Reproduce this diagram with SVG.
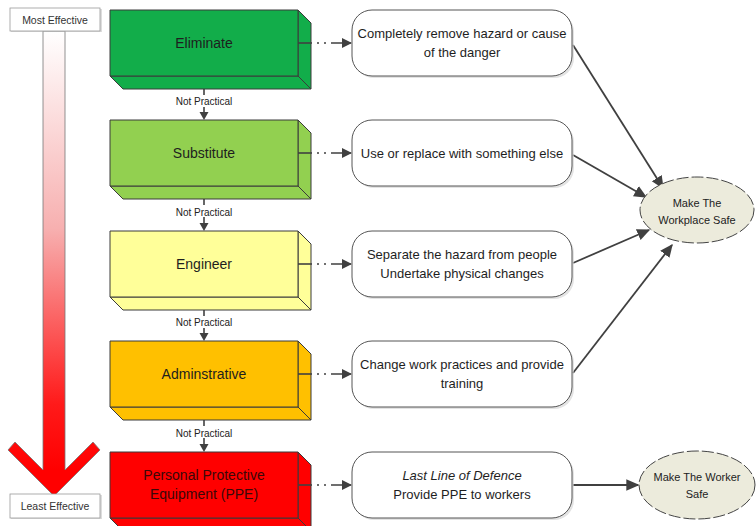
<svg xmlns="http://www.w3.org/2000/svg" width="756" height="526" viewBox="0 0 756 526">
<defs>
<linearGradient id="ag" gradientUnits="userSpaceOnUse" x1="0" y1="31" x2="0" y2="470">
<stop offset="0" stop-color="#ffffff"/>
<stop offset="0.45" stop-color="#f7b0b0"/>
<stop offset="0.85" stop-color="#ff1a1a"/>
<stop offset="1" stop-color="#ff0000"/>
</linearGradient>
<marker id="ah" viewBox="0 0 10 10" refX="9" refY="5" markerWidth="10" markerHeight="10" markerUnits="userSpaceOnUse" orient="auto">
<path d="M0,0 L10,5 L0,10 z" fill="#404040"/>
</marker>
<marker id="ah2" viewBox="0 0 10 10" refX="9" refY="5" markerWidth="13" markerHeight="13" markerUnits="userSpaceOnUse" orient="auto">
<path d="M0,0.5 L10,5 L0,9.5 z" fill="#404040"/>
</marker>
</defs>
<style>
.face{stroke:#3a3a3a;stroke-width:1;stroke-linejoin:round}
.lbl{font-family:"Liberation Sans",Arial,sans-serif;font-size:14px;fill:#1e1e1e;text-anchor:middle}
.np{font-family:"Liberation Sans",Arial,sans-serif;font-size:10px;fill:#222;text-anchor:middle}
.tb{fill:#ffffff;stroke:#555;stroke-width:1}
.sh{fill:#d0d0d0;opacity:0.6}
.tt{font-family:"Liberation Sans",Arial,sans-serif;font-size:13px;fill:#1e1e1e;text-anchor:middle}
.el{fill:#ecebdc;stroke:#444;stroke-width:1;stroke-dasharray:12 3}
.et{font-family:"Liberation Sans",Arial,sans-serif;font-size:11px;fill:#222;text-anchor:middle}
.sm{font-family:"Liberation Sans",Arial,sans-serif;font-size:10.5px;fill:#333;text-anchor:middle}
.dl{fill:none;stroke:#404040;stroke-width:1.6;stroke-dasharray:14 5 2 5 2 5 30}
.cl{fill:none;stroke:#404040;stroke-width:1.8}
.vl{stroke:#404040;stroke-width:1.6}
</style>
<rect width="756" height="526" fill="#ffffff"/>

<g id="effectiveness-arrow">
<polygon points="43,31 65,31 65,470 93,442 100,450 54,496 8,450 15,442 43,470" fill="url(#ag)" stroke="#777" stroke-width="0.8"/>
</g>
<g id="most-effective">
<rect x="11" y="9" width="91" height="23" fill="#bbb" opacity="0.5"/>
<rect x="10" y="8" width="90" height="23" fill="#fff" stroke="#999" stroke-width="0.8"/>
<text class="sm" x="55" y="23.5">Most Effective</text>
</g>
<g id="least-effective">
<rect x="11" y="495" width="91" height="24" fill="#bbb" opacity="0.5"/>
<rect x="10" y="494" width="90" height="24" fill="#fff" stroke="#999" stroke-width="0.8"/>
<text class="sm" x="55" y="510">Least Effective</text>
</g>

<g id="connectors">
<line class="vl" x1="204" y1="89" x2="204" y2="112"/>
<polygon points="199.5,112 208.5,112 204,120" fill="#404040"/>
<line class="vl" x1="204" y1="199" x2="204" y2="223"/>
<polygon points="199.5,223 208.5,223 204,231" fill="#404040"/>
<line class="vl" x1="204" y1="310" x2="204" y2="333"/>
<polygon points="199.5,333 208.5,333 204,341" fill="#404040"/>
<line class="vl" x1="204" y1="420" x2="204" y2="444"/>
<polygon points="199.5,444 208.5,444 204,452" fill="#404040"/>
<rect x="170" y="95" width="68" height="12" fill="#fff"/>
<text class="np" x="204" y="105">Not Practical</text>
<rect x="170" y="205" width="68" height="12" fill="#fff"/>
<text class="np" x="204" y="215.5">Not Practical</text>
<rect x="170" y="316" width="68" height="12" fill="#fff"/>
<text class="np" x="204" y="326">Not Practical</text>
<rect x="170" y="426" width="68" height="12" fill="#fff"/>
<text class="np" x="204" y="436.5">Not Practical</text>

<path class="dl" d="M298,43 H351" marker-end="url(#ah)"/>
<path class="dl" d="M298,153 H351" marker-end="url(#ah)"/>
<path class="dl" d="M298,264 H351" marker-end="url(#ah)"/>
<path class="dl" d="M298,374 H351" marker-end="url(#ah)"/>
<path class="dl" d="M298,485 H351" marker-end="url(#ah)"/>

<path class="cl" d="M573,45 L663,188" marker-end="url(#ah2)"/>
<path class="cl" d="M573,155 L646,197" marker-end="url(#ah2)"/>
<path class="cl" d="M573,263 L649,230" marker-end="url(#ah2)"/>
<path class="cl" d="M573,373 L672,245" marker-end="url(#ah2)"/>
<path class="cl" d="M573,485 L638,485" marker-end="url(#ah2)"/>
</g>

<g id="eliminate">
<polygon class="face" points="298,10 311,23 311,89 298,76" fill="#12ad4a"/>
<polygon class="face" points="110,76 298,76 311,89 123,89" fill="#12ad4a"/>
<rect class="face" x="110" y="10" width="188" height="66" fill="#12ad4a"/>
<line x1="298" y1="43" x2="311" y2="43" class="vl"/>
<text class="lbl" x="204" y="48">Eliminate</text>
</g>
<g id="substitute">
<polygon class="face" points="298,120 311,133 311,199 298,186" fill="#92d050"/>
<polygon class="face" points="110,186 298,186 311,199 123,199" fill="#92d050"/>
<rect class="face" x="110" y="120" width="188" height="66" fill="#92d050"/>
<line x1="298" y1="153" x2="311" y2="153" class="vl"/>
<text class="lbl" x="204" y="158">Substitute</text>
</g>
<g id="engineer">
<polygon class="face" points="298,231 311,244 311,310 298,297" fill="#ffff99"/>
<polygon class="face" points="110,297 298,297 311,310 123,310" fill="#ffff99"/>
<rect class="face" x="110" y="231" width="188" height="66" fill="#ffff99"/>
<line x1="298" y1="264" x2="311" y2="264" class="vl"/>
<text class="lbl" x="204" y="269">Engineer</text>
</g>
<g id="administrative">
<polygon class="face" points="298,341 311,354 311,420 298,407" fill="#ffc000"/>
<polygon class="face" points="110,407 298,407 311,420 123,420" fill="#ffc000"/>
<rect class="face" x="110" y="341" width="188" height="66" fill="#ffc000"/>
<line x1="298" y1="374" x2="311" y2="374" class="vl"/>
<text class="lbl" x="204" y="379">Adminstrative</text>
</g>
<g id="ppe">
<polygon class="face" points="298,452 311,465 311,531 298,518" fill="#ff0000"/>
<polygon class="face" points="110,518 298,518 311,531 123,531" fill="#ff0000"/>
<rect class="face" x="110" y="452" width="188" height="66" fill="#ff0000"/>
<line x1="298" y1="485" x2="311" y2="485" class="vl"/>
<text class="lbl" x="204" y="480" style="fill:#3a0808">Personal Protective</text>
<text class="lbl" x="204" y="499" style="fill:#3a0808">Equipment (PPE)</text>
</g>

<g id="desc-eliminate">
<rect class="sh" x="354" y="12" width="220" height="66" rx="20"/>
<rect class="tb" x="352" y="10" width="220" height="66" rx="20"/>
<text class="tt" x="462" y="38">Completely remove hazard or cause</text>
<text class="tt" x="462" y="57">of the danger</text>
</g>
<g id="desc-substitute">
<rect class="sh" x="354" y="122" width="220" height="66" rx="20"/>
<rect class="tb" x="352" y="120" width="220" height="66" rx="20"/>
<text class="tt" x="462" y="158">Use or replace with something else</text>
</g>
<g id="desc-engineer">
<rect class="sh" x="354" y="233" width="220" height="66" rx="20"/>
<rect class="tb" x="352" y="231" width="220" height="66" rx="20"/>
<text class="tt" x="462" y="259">Separate the hazard from people</text>
<text class="tt" x="462" y="278">Undertake physical changes</text>
</g>
<g id="desc-administrative">
<rect class="sh" x="354" y="343" width="220" height="66" rx="20"/>
<rect class="tb" x="352" y="341" width="220" height="66" rx="20"/>
<text class="tt" x="462" y="369">Change work practices and provide</text>
<text class="tt" x="462" y="388">training</text>
</g>
<g id="desc-ppe">
<rect class="sh" x="354" y="454" width="220" height="66" rx="20"/>
<rect class="tb" x="352" y="452" width="220" height="66" rx="20"/>
<text class="tt" x="462" y="480" font-style="italic">Last Line of Defence</text>
<text class="tt" x="462" y="499">Provide PPE to workers</text>
</g>

<g id="workplace-safe">
<ellipse class="el" cx="697" cy="210" rx="57" ry="33"/>
<text class="et" x="697" y="207">Make The</text>
<text class="et" x="697" y="224">Workplace Safe</text>
</g>
<g id="worker-safe">
<ellipse class="el" cx="697" cy="485" rx="58" ry="34"/>
<text class="et" x="697" y="481">Make The Worker</text>
<text class="et" x="697" y="498">Safe</text>
</g>
</svg>
